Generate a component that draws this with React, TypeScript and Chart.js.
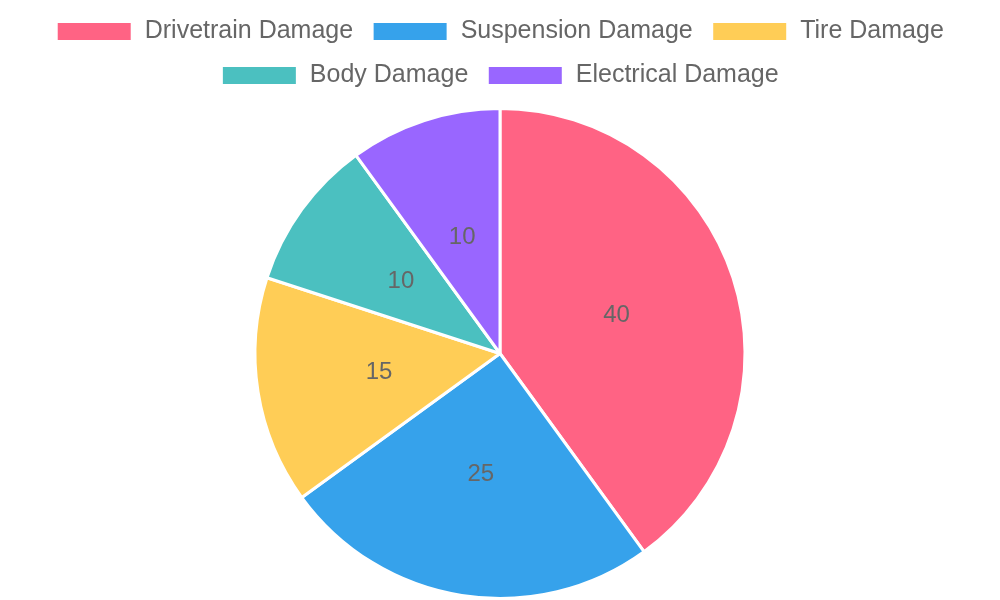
import { useEffect, useRef } from "react";
import Chart from "chart.js/auto";

const labels = [
  "Drivetrain Damage",
  "Suspension Damage",
  "Tire Damage",
  "Body Damage",
  "Electrical Damage",
];
const values = [40, 25, 15, 10, 10];
const colors = ["#ff6384", "#36a2eb", "#ffcd56", "#4bc0c0", "#9966ff"];

const FONT = "'Liberation Sans', Arial, sans-serif";

// draws each slice's value in the middle of the slice
const sliceValues = {
  id: "sliceValues",
  afterDatasetsDraw(chart: Chart) {
    const { ctx } = chart;
    const meta = chart.getDatasetMeta(0);
    ctx.save();
    ctx.font = `24px ${FONT}`;
    ctx.fillStyle = "#666";
    ctx.textAlign = "center";
    ctx.textBaseline = "middle";
    meta.data.forEach((arc: any, i: number) => {
      const pos = arc.tooltipPosition();
      ctx.fillText(String(chart.data.datasets[0].data[i]), pos.x, pos.y);
    });
    ctx.restore();
  },
};

// a bit of room between legend and pie
const legendMargin = {
  id: "legendMargin",
  beforeInit(chart: any) {
    const originalFit = chart.legend.fit;
    chart.legend.fit = function fit() {
      originalFit.bind(chart.legend)();
      this.height += 9;
    };
  },
};

export default function App() {
  const chartRef = useRef<HTMLCanvasElement>(null);
  const chartInstanceRef = useRef<Chart | null>(null);

  useEffect(() => {
    document.body.style.margin = "0";
    if (!chartRef.current) return;
    const ctx = chartRef.current.getContext("2d");
    if (!ctx) return;

    chartInstanceRef.current = new Chart(ctx, {
      type: "pie",
      data: {
        labels,
        datasets: [
          {
            data: values,
            backgroundColor: colors,
            borderColor: "#ffffff",
            borderWidth: 3,
            hoverOffset: 4,
          },
        ],
      },
      options: {
        responsive: true,
        maintainAspectRatio: false,
        animation: false,
        plugins: {
          legend: {
            position: "top",
            labels: {
              boxWidth: 76,
              boxHeight: 20,
              padding: 19,
              color: "#666",
              font: { family: FONT, size: 25 },
            },
          },
          tooltip: { enabled: false },
        },
      },
      plugins: [sliceValues, legendMargin],
    });

    return () => {
      if (chartInstanceRef.current) {
        chartInstanceRef.current.destroy();
        chartInstanceRef.current = null;
      }
    };
  }, []);

  return (
    <div style={{ width: 1000, height: 600 }}>
      <canvas ref={chartRef} />
    </div>
  );
}
